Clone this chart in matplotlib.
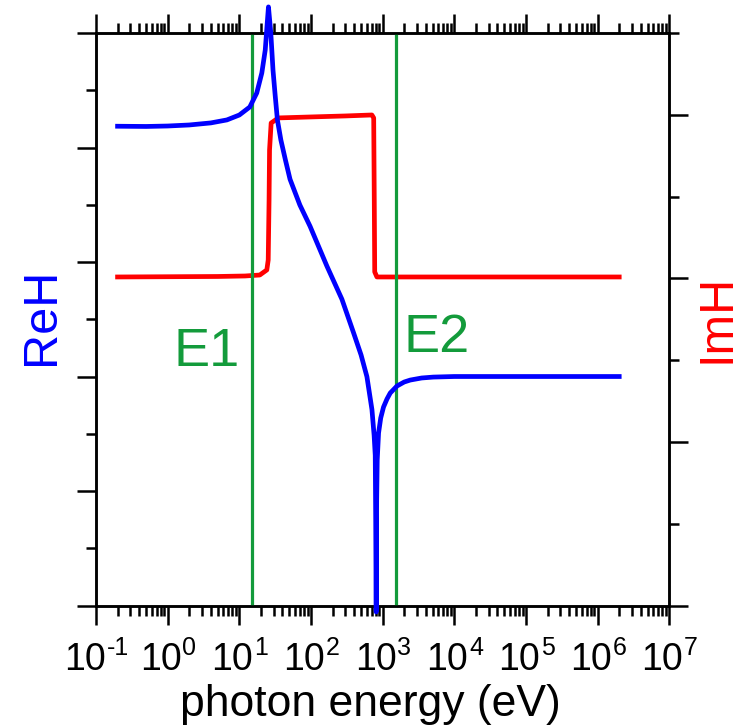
import numpy as np
import matplotlib
matplotlib.use("Agg")
import matplotlib.pyplot as plt
from matplotlib.ticker import LogLocator, MultipleLocator, NullFormatter

plt.rcParams['font.family'] = ['Liberation Sans', 'DejaVu Sans']

# ---- data ----
re_energy = [0.2, 0.5, 1, 2, 4, 6.7, 10, 14, 17.5, 20.6, 23, 24.7, 25.5,
             27.5, 29.5, 31.6, 34, 38, 44, 51, 70, 97, 167, 270, 393, 500,
             603, 709, 760, 788, 800, 808, 813, 818, 825, 840, 877, 940,
             1028, 1150, 1276, 1585, 2000, 2427, 3500, 5090, 1e4, 2e6]
re_h = [4.186, 4.184, 4.188, 4.197, 4.215, 4.241, 4.284, 4.354, 4.476,
        4.651, 4.852, 5.114, 5.228, 5.0, 4.677, 4.459, 4.241, 4.066,
        3.891, 3.723, 3.498, 3.313, 2.964, 2.676, 2.382, 2.189, 2.000,
        1.712, 1.488, 1.313, 0.749, 0.224, -0.055, 0.398, 0.923, 1.272,
        1.508, 1.639, 1.734, 1.805, 1.857, 1.918, 1.953, 1.970, 1.988,
        1.996, 2.001, 2.001]

im_energy = [0.2, 5, 12, 19.3, 24.2, 25.3, 26.0, 26.4, 27.8, 35, 100, 300,
             708, 750, 764, 775, 832, 2e6]
im_h = [2.009, 2.012, 2.015, 2.021, 2.052, 2.113, 2.479, 2.785, 2.950,
        2.981, 2.987, 2.993, 2.999, 2.981, 2.479, 2.040, 2.009, 2.009]

edges = {'E1': 15, 'E2': 1550}
decade_exponents = [-1, 0, 1, 2, 3, 4, 5, 6, 7]

BLUE = '#0000FF'
RED = '#FF0000'
GREEN = '#139B3B'

fig = plt.figure(figsize=(7.42, 7.27), dpi=100)
ax = fig.add_axes([96/742, 1 - 605.7/727, (669.3-96)/742, (605.7-33)/727])
ax2 = ax.twinx()

ax.set_xscale('log')
ax.set_xlim(1e-1, 1e7)
ax.set_ylim(0, 5)
ax.yaxis.set_major_locator(MultipleLocator(1))
ax.yaxis.set_minor_locator(MultipleLocator(0.5))
ax.yaxis.set_major_formatter(NullFormatter())
ax.xaxis.set_major_locator(LogLocator(base=10, numticks=100))
ax.xaxis.set_minor_locator(LogLocator(base=10, subs=np.arange(2, 10), numticks=100))
ax.xaxis.set_major_formatter(NullFormatter())
ax.xaxis.set_minor_formatter(NullFormatter())

ax2.set_ylim(0, 3.5)
ax2.yaxis.set_major_locator(MultipleLocator(1))
ax2.yaxis.set_minor_locator(MultipleLocator(0.5))
ax2.yaxis.set_major_formatter(NullFormatter())

ax.tick_params(axis='x', which='both', direction='out', top=True, bottom=True,
               labeltop=False)
ax.tick_params(axis='y', which='both', direction='out', left=True, right=False)
ax.tick_params(which='major', length=14, width=1.8)
ax.tick_params(which='minor', length=7.2, width=1.8)
ax2.tick_params(axis='y', which='both', direction='out', left=False, right=True)
ax2.tick_params(which='major', length=14, width=1.8)
ax2.tick_params(which='minor', length=7.5, width=1.8)

for a in (ax, ax2):
    for s in a.spines.values():
        s.set_linewidth(1.8)

ax.set_zorder(ax2.get_zorder() + 1)
ax.patch.set_visible(False)

for name, e in edges.items():
    ax.axvline(e, color=GREEN, lw=2.3, zorder=1)

ax2.plot(im_energy, im_h, color=RED, lw=3.4, solid_joinstyle='round', zorder=2)
ax.plot(re_energy, re_h, color=BLUE, lw=3.4, solid_joinstyle='round',
        clip_on=False, zorder=3)

# tick labels "10" with a hyphen-style exponent, as in the reference
renderer = fig.canvas.get_renderer()
base_dy, exp_dy = -46.3, -35.8
for e in decade_exponents:
    t1 = ax.annotate('10', xy=(10.0 ** e, 0), xycoords=('data', 'axes fraction'),
                     xytext=(0, base_dy), textcoords='offset points',
                     ha='right', va='baseline', fontsize=27, annotation_clip=False)
    t2 = ax.annotate(str(e), xy=(10.0 ** e, 0), xycoords=('data', 'axes fraction'),
                     xytext=(0.6, exp_dy), textcoords='offset points',
                     ha='left', va='baseline', fontsize=18, annotation_clip=False)
    w1 = t1.get_window_extent(renderer).width
    w2 = t2.get_window_extent(renderer).width
    shift = (w1 - w2) / 2 * 72 / fig.dpi
    t1.xyann = (shift, base_dy)
    t2.xyann = (shift + 0.6, exp_dy)

fig.text(174/742, 1 - 366/727, 'E1', color=GREEN, fontsize=39, va='baseline', ha='left')
fig.text(403/742, 1 - 352/727, 'E2', color=GREEN, fontsize=39, va='baseline', ha='left')

fig.text(42/742, 1 - 316/727, 'ReH', color=BLUE, fontsize=35, rotation=90,
         ha='center', va='center')
fig.text(717/742, 1 - 318/727, 'ImH', color=RED, fontsize=35, rotation=90,
         ha='center', va='center')

fig.text(370/742, 1 - 716/727, 'photon energy (eV)', fontsize=32,
         ha='center', va='baseline')

fig.savefig('out.png', dpi=100)
